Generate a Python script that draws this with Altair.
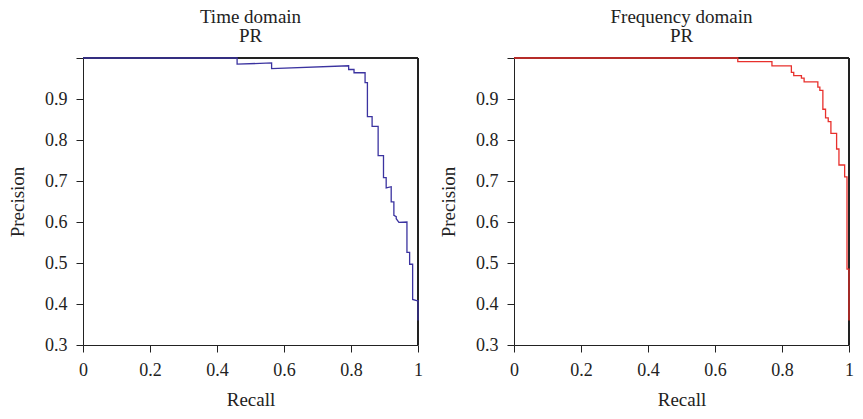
import altair as alt
import pandas as pd

# Time domain PR curve (vertices)
time_recall = [0, 0.460, 0.460, 0.563, 0.563, 0.793, 0.793, 0.809, 0.809, 0.842, 0.842,
               0.849, 0.849, 0.863, 0.863, 0.881, 0.881, 0.897, 0.897, 0.905, 0.905,
               0.920, 0.920, 0.928, 0.928, 0.935, 0.935, 0.943, 0.967, 0.967, 0.975,
               0.975, 0.984, 0.984, 0.996, 1.0, 1.0]
time_precision = [1.0, 1.0, 0.985, 0.988, 0.974, 0.981, 0.972, 0.972, 0.964, 0.964, 0.940,
                  0.940, 0.857, 0.857, 0.833, 0.833, 0.762, 0.762, 0.708, 0.708, 0.683,
                  0.686, 0.649, 0.649, 0.616, 0.613, 0.608, 0.599, 0.600, 0.526, 0.526,
                  0.497, 0.497, 0.411, 0.408, 0.408, 0.360]

# Frequency domain PR curve
freq_recall = [0, 0.668, 0.668, 0.770, 0.770, 0.828, 0.828, 0.835, 0.835, 0.858, 0.858,
               0.866, 0.866, 0.907, 0.907, 0.913, 0.913, 0.922, 0.922, 0.930, 0.930,
               0.938, 0.938, 0.946, 0.946, 0.963, 0.963, 0.970, 0.970, 0.987, 0.987,
               0.994, 0.994, 1.0, 1.0]
freq_precision = [1.0, 1.0, 0.991, 0.991, 0.981, 0.981, 0.965, 0.965, 0.957, 0.957, 0.951,
                  0.951, 0.942, 0.942, 0.929, 0.929, 0.921, 0.921, 0.875, 0.875, 0.854,
                  0.854, 0.845, 0.845, 0.816, 0.816, 0.778, 0.778, 0.739, 0.739, 0.710,
                  0.710, 0.485, 0.485, 0.360]

titles = [["Time domain", "PR"], ["Frequency domain", "PR"]]
colors = ["#3b33a0", "#e8302c"]
x_ticks = [0, 0.2, 0.4, 0.6, 0.8, 1.0]
y_ticks = [0.3, 0.4, 0.5, 0.6, 0.7, 0.8, 0.9, 1.0]

FONT = "Liberation Serif"
W, H = 335, 287
FRAME = "#222222"


def panel(recall, precision, title, color):
    df = pd.DataFrame({"order": list(range(len(recall))),
                       "Recall": recall, "Precision": precision})
    base = alt.Chart(df)
    line = base.mark_line(color=color, strokeWidth=1.3, clip=False).encode(
        x=alt.X("Recall:Q",
                scale=alt.Scale(domain=[0, 1], nice=False, zero=False),
                axis=alt.Axis(values=x_ticks, format="~g", title="Recall",
                              labelFont=FONT, titleFont=FONT, titlePadding=11)),
        y=alt.Y("Precision:Q",
                scale=alt.Scale(domain=[0.3, 1.0], nice=False, zero=False),
                axis=alt.Axis(values=y_ticks, format="~g", title="Precision",
                              labelFont=FONT, titleFont=FONT, titlePadding=17,
                              labelExpr="datum.value >= 0.999 ? '' : datum.label")),
        order="order:Q",
    )
    top_border = base.mark_rule(color=FRAME, strokeWidth=1).encode(
        x=alt.value(0), x2=alt.value(W), y=alt.value(0))
    right_border = base.mark_rule(color=FRAME, strokeWidth=1).encode(
        x=alt.value(W), y=alt.value(0), y2=alt.value(H))
    return alt.layer(top_border, right_border, line).properties(
        width=W, height=H,
        title=alt.TitleParams(title, font=FONT, fontSize=19, fontWeight="normal",
                              color="#222222", lineHeight=19, offset=3),
    )


chart = alt.hconcat(
    panel(time_recall, time_precision, titles[0], colors[0]),
    panel(freq_recall, freq_precision, titles[1], colors[1]),
    spacing=16,
).properties(padding=0).configure_view(
    strokeWidth=0
).configure_axis(
    grid=False, domainColor=FRAME, tickColor=FRAME, tickSize=7,
    labelFont=FONT, labelFontSize=18, labelColor="#222222", labelPadding=9,
    titleFont=FONT, titleFontSize=19, titleFontWeight="normal", titleColor="#222222",
    labelFlush=False, labelOverlap=False,
)

chart.save("out.html", embed_options={"renderer": "svg", "actions": False})
